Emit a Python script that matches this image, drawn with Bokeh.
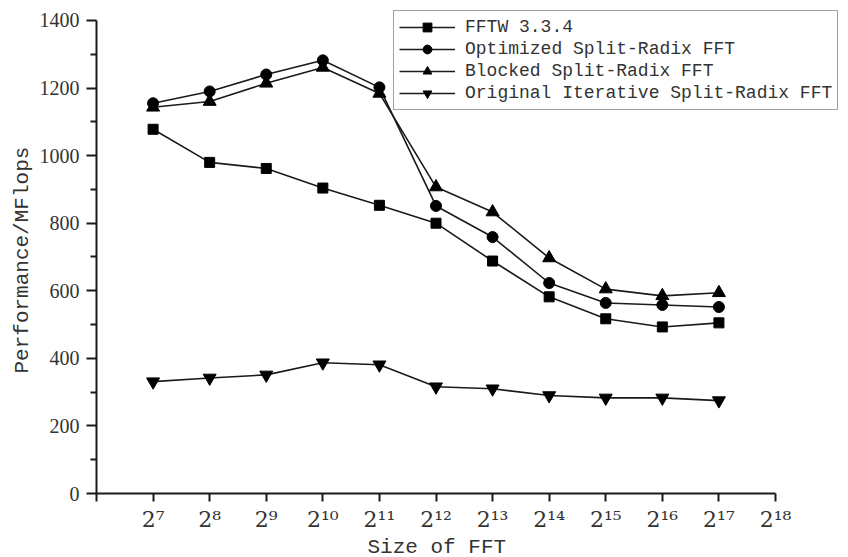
from bokeh.plotting import figure
from bokeh.models import Legend, LegendItem, FixedTicker, Range1d, Title
from bokeh.embed import file_html
from bokeh.resources import INLINE

# ---- data ----
sizes_exp = [7, 8, 9, 10, 11, 12, 13, 14, 15, 16, 17]
fftw = [1078, 980, 962, 904, 853, 800, 688, 582, 517, 493, 505]
optimized = [1155, 1190, 1240, 1282, 1202, 851, 759, 623, 564, 558, 552]
blocked = [1143, 1160, 1214, 1261, 1184, 907, 833, 697, 605, 585, 594]
original = [331, 342, 351, 387, 381, 316, 310, 290, 283, 283, 275]

x_ticks = [6, 7, 8, 9, 10, 11, 12, 13, 14, 15, 16, 17, 18]
x_tick_labels = ["", "2⁷", "2⁸", "2⁹", "2¹⁰", "2¹¹", "2¹²", "2¹³", "2¹⁴", "2¹⁵", "2¹⁶", "2¹⁷", "2¹⁸"]
y_ticks = [0, 200, 400, 600, 800, 1000, 1200, 1400]
y_minor_ticks = [100, 300, 500, 700, 900, 1100, 1300]

series_names = ["FFTW 3.3.4", "Optimized Split-Radix FFT", "Blocked Split-Radix FFT",
                "Original Iterative Split-Radix FFT"]

# frame spans past the axes' ends so the legend is not clipped;
# the axes themselves are bounded to 6..18 and 0..1400
p = figure(width=848, height=557, x_range=Range1d(6, 19.29), y_range=Range1d(0, 1459.1),
           output_backend="svg", toolbar_location=None,
           min_border_left=96, min_border_right=0, min_border_top=0, min_border_bottom=63)
p.outline_line_color = None
p.xgrid.grid_line_color = None
p.ygrid.grid_line_color = None
p.background_fill_color = "white"
p.border_fill_color = "white"

ink = "#1a1a1a"
txt = "#333333"

# x axis
xa = p.xaxis[0]
xa.bounds = (6, 18)
xa.ticker = FixedTicker(ticks=x_ticks, minor_ticks=[])
xa.major_label_overrides = {t: l for t, l in zip(x_ticks, x_tick_labels)}
xa.axis_line_width = 2
xa.axis_line_color = ink
xa.major_tick_line_width = 2
xa.major_tick_line_color = ink
xa.major_tick_out = 8
xa.major_tick_in = 0
xa.minor_tick_line_color = None
xa.major_label_text_font = "DejaVu Serif"
xa.major_label_text_font_size = "22px"
xa.major_label_text_color = txt
xa.major_label_standoff = 5

p.add_layout(Title(text="Size of FFT", align="left", offset=271, standoff=-2,
                   text_font="Liberation Mono", text_font_style="normal",
                   text_font_size="21px", text_color=txt), "below")

# y axis
ya = p.yaxis[0]
ya.bounds = (0, 1400)
ya.ticker = FixedTicker(ticks=y_ticks, minor_ticks=y_minor_ticks)
ya.axis_line_width = 2
ya.axis_line_color = ink
ya.major_tick_line_width = 2
ya.major_tick_line_color = ink
ya.major_tick_out = 10
ya.major_tick_in = 0
ya.minor_tick_line_width = 2
ya.minor_tick_line_color = ink
ya.minor_tick_out = 6
ya.minor_tick_in = 0
ya.major_label_text_font = "Liberation Serif"
ya.major_label_text_font_size = "20px"
ya.major_label_text_color = txt
ya.major_label_standoff = 7

p.add_layout(Title(text="Performance/MFlops", align="left", offset=120, standoff=5,
                   text_font="Liberation Mono", text_font_style="normal",
                   text_font_size="21px", text_color=txt), "left")

line_kw = dict(line_color=ink, line_width=1.6)
items = []
specs = [(fftw, "square", 10), (optimized, "circle", 11), (blocked, "triangle", 13),
         (original, "inverted_triangle", 13)]
for name, (vals, marker, sz) in zip(series_names, specs):
    r1 = p.line(sizes_exp, vals, **line_kw)
    r2 = p.scatter(sizes_exp, vals, marker=marker, size=sz, fill_color="black", line_color="black")
    items.append(LegendItem(label=name, renderers=[r1, r2]))

legend = Legend(items=items, location=(297, 383), orientation="vertical")
legend.border_line_color = "#444444"
legend.border_line_width = 1
legend.background_fill_color = "white"
legend.background_fill_alpha = 1
legend.label_text_font = "Liberation Mono"
legend.label_text_font_size = "18px"
legend.label_text_color = txt
legend.glyph_width = 56
legend.glyph_height = 22
legend.label_height = 22
legend.label_standoff = 10
legend.spacing = 0
legend.padding = 5
legend.margin = 0
p.add_layout(legend, "center")

open("out.html", "w").write(file_html(p, INLINE))
